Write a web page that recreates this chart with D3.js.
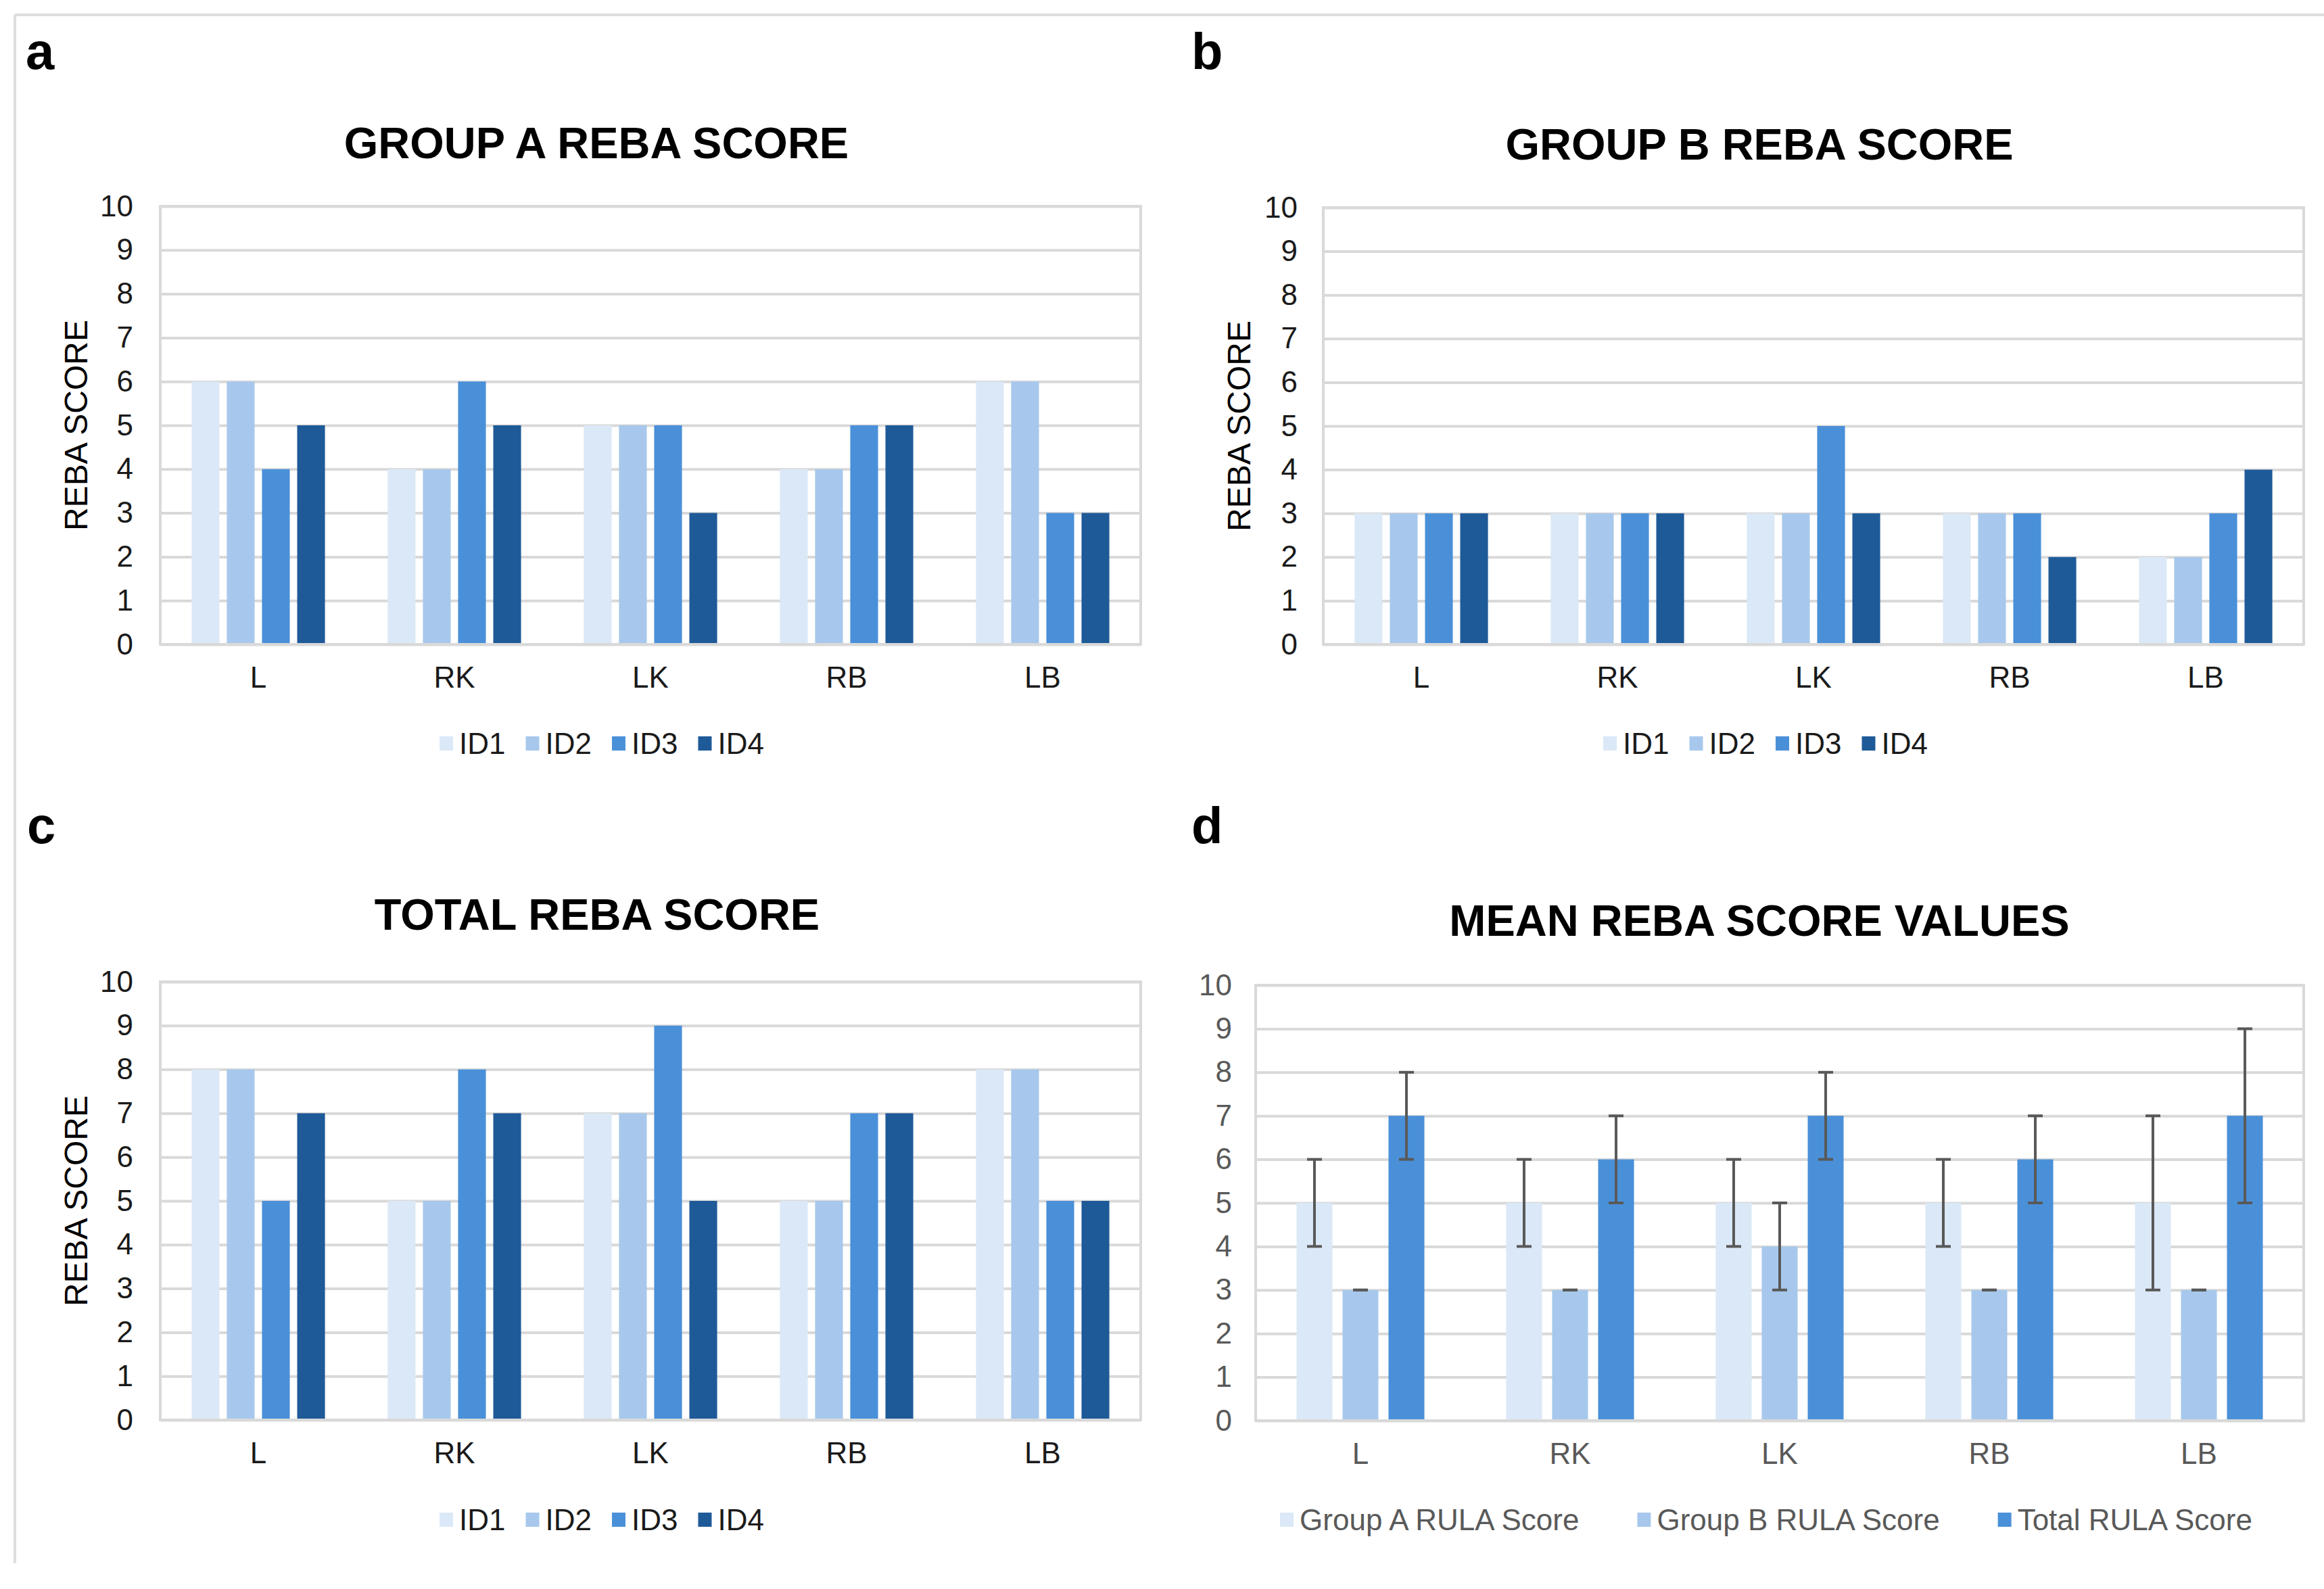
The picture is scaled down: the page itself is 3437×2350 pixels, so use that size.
<!DOCTYPE html>
<html>
<head>
<meta charset="utf-8">
<script src="https://cdn.jsdelivr.net/npm/d3@7"></script>
<style>
	body { margin: 0; background: #fff; }
	svg { display: block; }
	text { font-family: "Liberation Sans", Arial, sans-serif; }
</style>
</head>
<body>
<div id="fig"></div>
<script>
'use strict'
var width = 3437;
var height = 2350;

// ---- data ----
var categories = ['L', 'RK', 'LK', 'RB', 'LB'];
var yTicks = [0, 1, 2, 3, 4, 5, 6, 7, 8, 9, 10];
var idNames = ['ID1', 'ID2', 'ID3', 'ID4'];

// a - group A
var groupA_ID1 = [6, 4, 5, 4, 6];
var groupA_ID2 = [6, 4, 5, 4, 6];
var groupA_ID3 = [4, 6, 5, 5, 3];
var groupA_ID4 = [5, 5, 3, 5, 3];

// b - group B
var groupB_ID1 = [3, 3, 3, 3, 2];
var groupB_ID2 = [3, 3, 3, 3, 2];
var groupB_ID3 = [3, 3, 5, 3, 3];
var groupB_ID4 = [3, 3, 3, 2, 4];

// c - total
var total_ID1 = [8, 5, 7, 5, 8];
var total_ID2 = [8, 5, 7, 5, 8];
var total_ID3 = [5, 8, 9, 7, 5];
var total_ID4 = [7, 7, 5, 7, 5];

// d - means with error bars
var meanNames = ['Group A RULA Score', 'Group B RULA Score', 'Total RULA Score'];
var meanA = [5, 5, 5, 5, 5];
var errA = [1, 1, 1, 1, 2];
var meanB = [3, 3, 4, 3, 3];
var errB = [0, 0, 1, 0, 0];
var meanTotal = [7, 6, 7, 6, 7];
var errTotal = [1, 1, 1, 1, 2];

var idColors = ['#dbe8f7', '#a7c8ec', '#4a90d9', '#1f5a98'];
var gridColor = '#d9d9d9';

var svg = d3.select('#fig')
	.append('svg')
	.attr('width', width)
	.attr('height', height);

// outer frame (top + left only, as in the figure)
svg.append('line').attr('x1', 22).attr('x2', width).attr('y1', 22).attr('y2', 22)
	.attr('stroke', '#dedede').attr('stroke-width', 4);
svg.append('line').attr('x1', 22).attr('x2', 22).attr('y1', 22).attr('y2', 2312)
	.attr('stroke', '#dedede').attr('stroke-width', 4);

function drawChart(opt){
	var g = svg.append('g');
	var x0 = d3.scaleBand().domain(categories).range([opt.left, opt.right]);
	var y = d3.scaleLinear().domain([0, 10]).range([opt.bottom, opt.top]);
	var bw = x0.bandwidth();
	var gw = bw * opt.groupFrac;
	var x1 = d3.scaleBand()
		.domain(opt.series.map(function(s){ return s.name; }))
		.range([(bw - gw) / 2, (bw + gw) / 2])
		.paddingInner(opt.barGap);

	// gridlines
	g.append('g')
		.attr('transform', 'translate(' + opt.left + ',0)')
		.call(d3.axisLeft(y).tickValues(yTicks).tickSize(-(opt.right - opt.left)).tickFormat(''))
		.call(function(a){ a.select('.domain').remove(); })
		.selectAll('line')
			.attr('stroke', gridColor)
			.attr('stroke-width', 4);

	// bars
	opt.series.forEach(function(s){
		g.append('g')
			.selectAll('rect')
			.data(s.values)
			.enter()
			.append('rect')
				.attr('x', function(d, i){ return x0(categories[i]) + x1(s.name); })
				.attr('y', function(d){ return y(d); })
				.attr('width', x1.bandwidth())
				.attr('height', function(d){ return y(0) - y(d); })
				.attr('fill', s.color);
	});

	// error bars
	opt.series.forEach(function(s){
		if(!s.err) return;
		var eg = g.append('g').attr('stroke', '#595959').attr('stroke-width', 4);
		s.values.forEach(function(v, i){
			var cx = x0(categories[i]) + x1(s.name) + x1.bandwidth() / 2;
			var lo = y(v - s.err[i]);
			var hi = y(v + s.err[i]);
			eg.append('line').attr('x1', cx).attr('x2', cx).attr('y1', lo).attr('y2', hi);
			eg.append('line').attr('x1', cx - 11).attr('x2', cx + 11).attr('y1', lo).attr('y2', lo);
			eg.append('line').attr('x1', cx - 11).attr('x2', cx + 11).attr('y1', hi).attr('y2', hi);
		});
	});

	// plot frame
	g.append('rect')
		.attr('x', opt.left).attr('y', opt.top)
		.attr('width', opt.right - opt.left).attr('height', opt.bottom - opt.top)
		.attr('fill', 'none')
		.attr('stroke', gridColor)
		.attr('stroke-width', 4);

	// y tick labels
	g.append('g')
		.attr('transform', 'translate(' + opt.left + ',0)')
		.call(d3.axisLeft(y).tickValues(yTicks).tickSize(0).tickPadding(opt.tickPad))
		.call(function(a){ a.select('.domain').remove(); })
		.selectAll('text')
			.style('font-size', '44px')
			.style('font-family', '"Liberation Sans", Arial, sans-serif')
			.attr('fill', opt.textColor);

	// category labels
	g.append('g')
		.attr('transform', 'translate(0,' + opt.bottom + ')')
		.call(d3.axisBottom(x0).tickSize(0).tickPadding(33))
		.call(function(a){ a.select('.domain').remove(); })
		.selectAll('text')
			.style('font-size', '44px')
			.style('font-family', '"Liberation Sans", Arial, sans-serif')
			.attr('fill', opt.textColor);

	// title
	g.append('text')
		.attr('x', opt.titleX)
		.attr('y', opt.titleY)
		.attr('text-anchor', 'middle')
		.style('font-size', '65px')
		.style('font-weight', 'bold')
		.attr('fill', '#000')
		.text(opt.title);

	// panel letter
	g.append('text')
		.attr('x', opt.letterX)
		.attr('y', opt.letterY)
		.style('font-size', '76px')
		.style('font-weight', 'bold')
		.attr('fill', '#000')
		.text(opt.letter);

	// y axis title
	if(opt.yTitle){
		g.append('text')
			.attr('transform', 'translate(' + opt.yTitleX + ',' + ((opt.top + opt.bottom) / 2) + ') rotate(-90)')
			.attr('text-anchor', 'middle')
			.attr('dy', '0.35em')
			.style('font-size', '48px')
			.attr('fill', '#000')
			.text(opt.yTitle);
	}

	// legend
	var lg = g.append('g');
	var xpos = 0;
	opt.series.forEach(function(s){
		var item = lg.append('g').attr('transform', 'translate(' + xpos + ',0)');
		item.append('rect')
			.attr('x', 0).attr('y', -10)
			.attr('width', 20).attr('height', 21)
			.attr('fill', s.color);
		var t = item.append('text')
			.attr('x', 29)
			.attr('dy', '0.36em')
			.style('font-size', '44px')
			.attr('fill', opt.textColor)
			.text(s.name);
		xpos += 29 + t.node().getComputedTextLength() + opt.legendGap;
	});
	var total = xpos - opt.legendGap;
	lg.attr('transform', 'translate(' + (opt.legendX - total / 2) + ',' + opt.legendY + ')');
}

function idSeries(v1, v2, v3, v4){
	return [v1, v2, v3, v4].map(function(v, i){
		return { name: idNames[i], values: v, color: idColors[i] };
	});
}

drawChart({
	letter: 'a', letterX: 38, letterY: 102,
	title: 'GROUP A REBA SCORE', titleX: 882, titleY: 234,
	left: 237, right: 1687, top: 305, bottom: 953,
	groupFrac: 0.68, barGap: 0.21, tickPad: 40,
	yTitle: 'REBA SCORE', yTitleX: 112,
	textColor: '#1a1a1a',
	legendX: 890, legendY: 1099, legendGap: 30,
	series: idSeries(groupA_ID1, groupA_ID2, groupA_ID3, groupA_ID4)
});

drawChart({
	letter: 'b', letterX: 1762, letterY: 102,
	title: 'GROUP B REBA SCORE', titleX: 2602, titleY: 236,
	left: 1957, right: 3407, top: 307, bottom: 953,
	groupFrac: 0.68, barGap: 0.21, tickPad: 38,
	yTitle: 'REBA SCORE', yTitleX: 1832,
	textColor: '#1a1a1a',
	legendX: 2611, legendY: 1099, legendGap: 30,
	series: idSeries(groupB_ID1, groupB_ID2, groupB_ID3, groupB_ID4)
});

drawChart({
	letter: 'c', letterX: 40, letterY: 1247,
	title: 'TOTAL REBA SCORE', titleX: 883, titleY: 1375,
	left: 237, right: 1687, top: 1452, bottom: 2100,
	groupFrac: 0.68, barGap: 0.21, tickPad: 40,
	yTitle: 'REBA SCORE', yTitleX: 112,
	textColor: '#1a1a1a',
	legendX: 890, legendY: 2247, legendGap: 30,
	series: idSeries(total_ID1, total_ID2, total_ID3, total_ID4)
});

drawChart({
	letter: 'd', letterX: 1762, letterY: 1247,
	title: 'MEAN REBA SCORE VALUES', titleX: 2602, titleY: 1384,
	left: 1857, right: 3407, top: 1457, bottom: 2101,
	groupFrac: 0.61, barGap: 0.22, tickPad: 35,
	yTitle: null,
	textColor: '#595959',
	legendX: 2612, legendY: 2247, legendGap: 86,
	series: [
		{ name: meanNames[0], values: meanA, err: errA, color: idColors[0] },
		{ name: meanNames[1], values: meanB, err: errB, color: idColors[1] },
		{ name: meanNames[2], values: meanTotal, err: errTotal, color: idColors[2] }
	]
});
</script>
</body>
</html>
